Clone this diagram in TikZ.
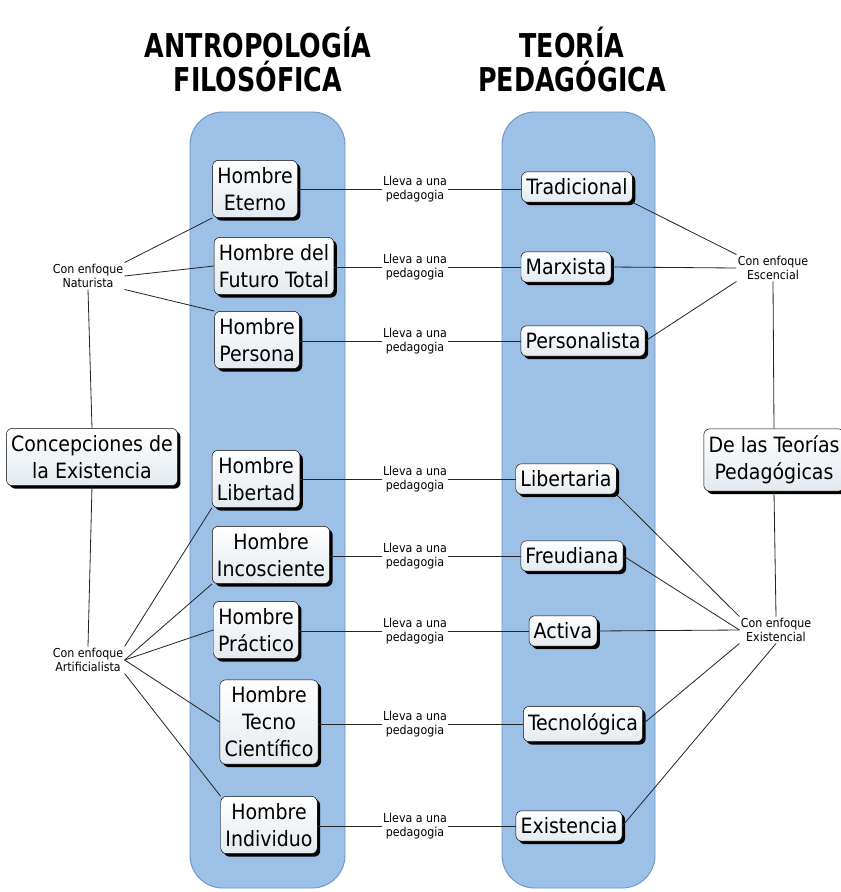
\documentclass[tikz,border=0pt]{standalone}
\usepackage{fontspec}
\setmainfont{DejaVu Sans Condensed}
\usepackage{xcolor}
\usepackage{tikz}
\usetikzlibrary{positioning, shadows}

\definecolor{colfill}{RGB}{157,192,230}
\definecolor{coledge}{RGB}{110,150,200}
\definecolor{boxtop}{RGB}{255,255,255}
\definecolor{boxbot}{RGB}{228,234,240}

\begin{document}
\begin{tikzpicture}[
    x=0.03cm, y=-0.03cm,
    column/.style={draw=coledge, fill=colfill, rounded corners=28pt, line width=0.8pt},
    title/.style={align=center, font=\fontsize{28}{29}\selectfont\bfseries\addfontfeature{FakeStretch=0.86}},
    block/.style={draw, rounded corners=5pt, align=center, top color=boxtop, bottom color=boxbot,
        inner xsep=4pt, inner ysep=6pt, font=\fontsize{18}{23}\selectfont,
        drop shadow={shadow xshift=2.5pt, shadow yshift=-2.5pt, fill=black, opacity=1}},
    note/.style={align=center, inner sep=1pt, font=\fontsize{10.5}{12.5}\selectfont},
    link/.style={draw=black!85, line width=0.7pt},
]
\useasboundingbox (0,0) rectangle (841,892);

% columns
\draw[column] (190,112) rectangle (345,888);
\draw[column] (502,112) rectangle (655,888);

% titles
\node[title] (tantro) at (258,60) {ANTROPOLOGÍA\\FILOSÓFICA};
\node[title] (tpeda) at (572,60) {TEORÍA\\PEDAGÓGICA};

% Antropologia
\node[block] (eterno) at (255,189) {Hombre\\Eterno};
\node[block] (futuro) at (274,266) {Hombre del\\Futuro Total};
\node[block] (persona) at (257,340) {Hombre\\Persona};
\node[block] (libertad) at (256,479) {Hombre\\Libertad};
\node[block] (incons) at (271,555) {Hombre\\Incosciente};
\node[block] (practico) at (256,630) {Hombre\\Práctico};
\node[block] (tecno) at (269,722) {Hombre\\Tecno\\Científico};
\node[block] (individuo) at (269,825) {Hombre\\Individuo};

% Pedagogia
\node[block] (tradicional) at (577,187) {Tradicional};
\node[block] (marxista) at (566,267) {Marxista};
\node[block] (personalista) at (583,341) {Personalista};
\node[block] (libertaria) at (566,479) {Libertaria};
\node[block] (freudiana) at (572,556) {Freudiana};
\node[block] (activa) at (563,631) {Activa};
\node[block] (tecnologica) at (583,724) {Tecnológica};
\node[block] (existencia) at (569,826) {Existencia};

% Lleva a una pedagogia
\foreach \l/\r/\y [count=\i] in {eterno/tradicional/189, futuro/marxista/267, persona/personalista/341,
    libertad/libertaria/479, incons/freudiana/556, practico/activa/631, tecno/tecnologica/724,
    individuo/existencia/826}{
  \node[note] (lleva\i) at (415,\y) {Lleva a una\\pedagogia};
  \draw[link] (\l.east |- lleva\i.west) -- (lleva\i.west);
  \draw[link] (lleva\i.east) -- (\r.west |- lleva\i.east);
}

% lado izquierdo
\node[note] (naturista) at (88,276) {Con enfoque\\Naturista};
\node[block] (concep) at (92,457) {Concepciones de\\la Existencia};
\node[note] (artificial) at (88,660) {Con enfoque\\Artificialista};

\draw[link] (naturista.north east) -- (eterno.south west);
\draw[link] (naturista.east) -- (futuro.west);
\draw[link] (naturista.south east) -- (persona.north west);
\draw[link] (naturista.south) -- (concep.north);
\draw[link] (concep.south) -- (artificial.north);
\draw[link] (artificial.north east) -- (libertad.south west);
\draw[link] (artificial.east) -- (incons.south west);
\draw[link] (artificial.east) -- (practico.west);
\draw[link] (artificial.east) -- (tecno.west);
\draw[link] (artificial.south east) -- (individuo.north west);

% lado derecho
\node[note] (escencial) at (773,268) {Con enfoque\\Escencial};
\node[block] (teorias) at (774,460) {De las Teorías\\Pedagógicas};
\node[note] (existencial) at (776,630) {Con enfoque\\Existencial};

\draw[link] (tradicional.south east) -- (escencial.north west);
\draw[link] (marxista.east) -- (escencial.west);
\draw[link] (personalista.east) -- (escencial.south west);
\draw[link] (escencial.south) -- (teorias.north);
\draw[link] (teorias.south) -- (existencial.north);
\draw[link] (libertaria.south east) -- (existencial.north west);
\draw[link] (freudiana.east) -- (existencial.west);
\draw[link] (activa.east) -- (existencial.west);
\draw[link] (tecnologica.east) -- (existencial.south west);
\draw[link] (existencia.east) -- (existencial.south);

\end{tikzpicture}
\end{document}
